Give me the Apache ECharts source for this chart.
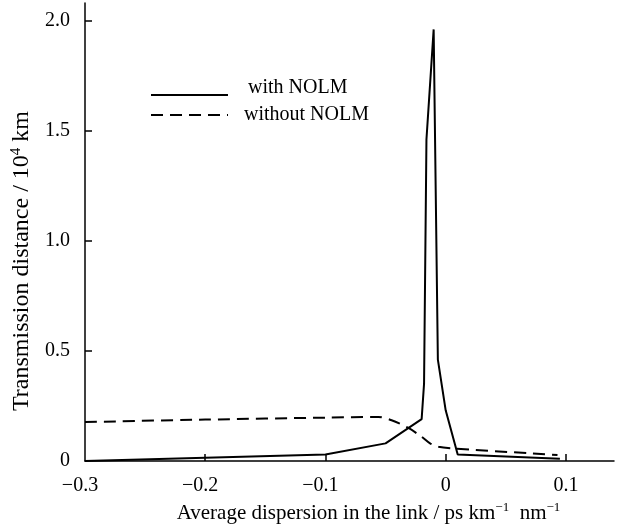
<!DOCTYPE html>
<html>
<head>
<meta charset="utf-8">
<script src="https://cdn.jsdelivr.net/npm/echarts@6/dist/echarts.min.js"></script>
<style>html,body{margin:0;padding:0;background:#fff}#c{width:625px;height:530px}</style>
</head>
<body>
<div id="c"></div>
<script>
const withNolm = [[-0.3,0],[-0.1,0.03],[-0.05,0.08],[-0.02,0.19],[-0.018,0.35],[-0.016,1.46],[-0.01,1.96],[-0.0065,0.46],[0,0.23],[0.01,0.03],[0.095,0.01]];
const withoutNolm = [[-0.3,0.177],[-0.2,0.188],[-0.1,0.197],[-0.056,0.2],[-0.045,0.185],[-0.031,0.15],[-0.02,0.11],[-0.013,0.08],[-0.006,0.065],[0.007,0.057],[0.093,0.027]];
const xTicks = [-0.3,-0.2,-0.1,0,0.1];
const xTickLabels = ['\u22120.3','\u22120.2','\u22120.1','0','0.1'];
const yTicks = [0,0.5,1,1.5,2];
const yTickLabels = ['0','0.5','1.0','1.5','2.0'];
const seriesNames = ['with NOLM','without NOLM'];

const font = 'Liberation Serif';
const chart = echarts.init(document.getElementById('c'));
function lab(list, labels){ return v => { for (let i=0;i<list.length;i++) if (Math.abs(list[i]-v)<1e-6) { const t = labels[i]; return t.charAt(0)==='\u2212' ? '{n|'+t+'}' : t; } return ''; }; }
chart.setOption({
  animation:false,
  backgroundColor:'#fff',
  grid:{left:85,right:11,top:3,bottom:69},
  legend:[
    {orient:'vertical', left:145, top:73, itemWidth:77, itemHeight:14, itemStyle:{opacity:0},
      data:[seriesNames[0]], formatter:n=>'{a|'+n+'}',
      textStyle:{fontFamily:font,fontSize:20,color:'#000',padding:[0,0,0,15],
        rich:{a:{fontFamily:font,fontSize:20,color:'#000',padding:[0,0,14,0]}}}},
    {orient:'vertical', left:145, top:100, itemWidth:77, itemHeight:14, itemStyle:{opacity:0},
      data:[seriesNames[1]],
      textStyle:{fontFamily:font,fontSize:20,color:'#000',padding:[0,0,0,11]}}
  ],
  xAxis:{
    type:'value', min:-0.3, max:0.14, interval:0.1,
    name:'Average dispersion in the link / ps km{s|\u22121}  nm{s|\u22121}',
    nameLocation:'middle', nameGap:33,
    nameTextStyle:{fontFamily:font,fontSize:21,color:'#000',padding:[0,0,0,38],
      rich:{s:{fontFamily:font,fontSize:13,verticalAlign:'top',padding:[0,0,12,0],color:'#000'}}},
    axisLine:{onZero:false,lineStyle:{color:'#000',width:1.5}},
    axisTick:{inside:true,length:7,lineStyle:{color:'#000',width:1.5},customValues:[-0.2,-0.1,0,0.1]},
    axisLabel:{customValues:xTicks,formatter:lab(xTicks,xTickLabels),fontFamily:font,fontSize:20,color:'#000',margin:15,
      rich:{n:{fontFamily:font,fontSize:20,color:'#000',padding:[0,10,0,0]}}},
    splitLine:{show:false}
  },
  yAxis:{
    type:'value', min:0, max:2.08, interval:0.5,
    name:'Transmission distance / 10{s|4} km',
    nameLocation:'middle', nameGap:46,
    nameTextStyle:{fontFamily:font,fontSize:24,color:'#000',padding:[0,58,0,0],
      rich:{s:{fontFamily:font,fontSize:15,padding:[0,0,13,0],color:'#000'}}},
    axisLine:{onZero:false,lineStyle:{color:'#000',width:1.5}},
    axisTick:{inside:true,length:7,lineStyle:{color:'#000',width:1.5},customValues:[0.5,1,1.5,2]},
    axisLabel:{customValues:yTicks,formatter:lab(yTicks,yTickLabels),fontFamily:font,fontSize:20,color:'#000',margin:15},
    splitLine:{show:false}
  },
  series:[
    {name:seriesNames[0],type:'line',data:withNolm,symbol:'none',lineStyle:{color:'#000',width:2},itemStyle:{color:'#000'}},
    {name:seriesNames[1],type:'line',data:withoutNolm,symbol:'none',smooth:0.3,lineStyle:{color:'#000',width:2,type:[12,7]},itemStyle:{color:'#000'}}
  ]
});
</script>
</body>
</html>
